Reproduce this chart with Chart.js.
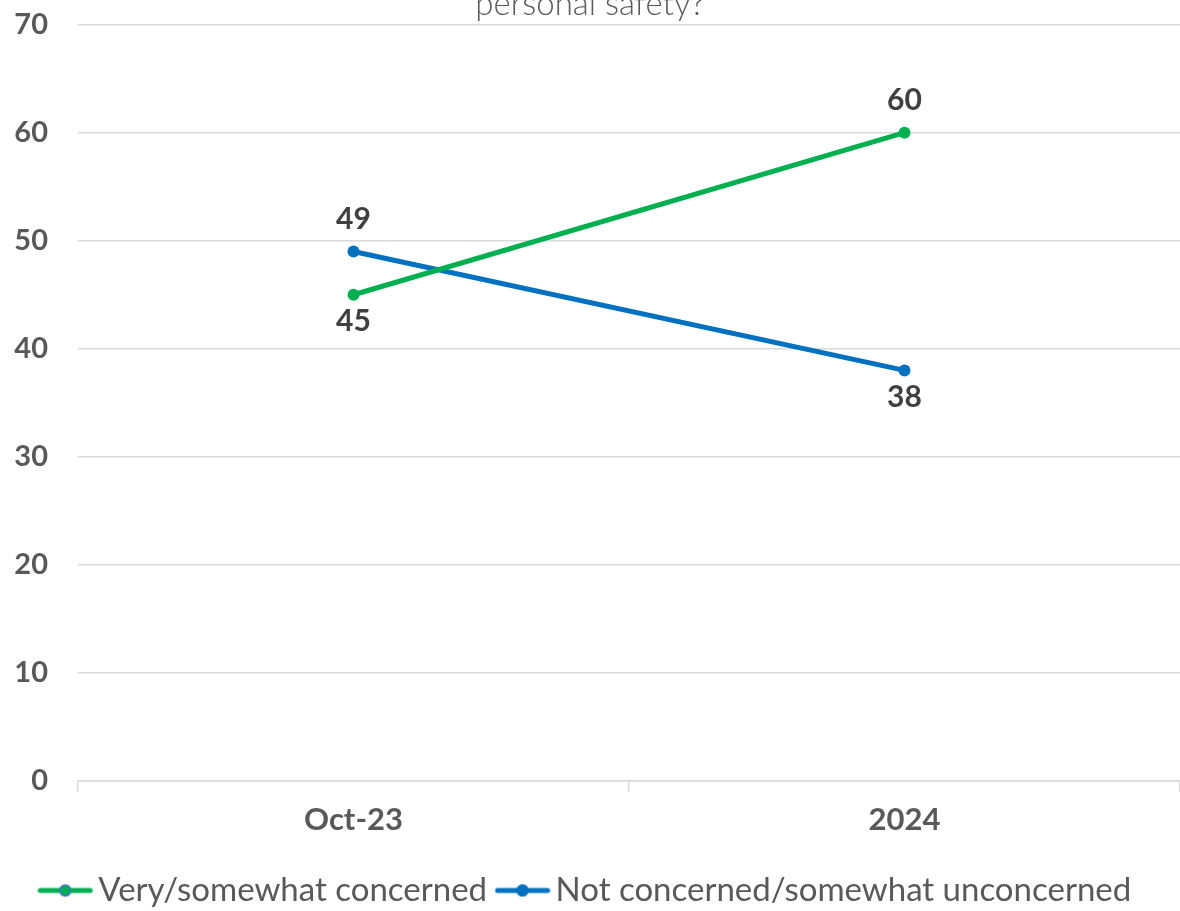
<!DOCTYPE html>
<html>
<head>
<meta charset="utf-8">
<script src="https://cdn.jsdelivr.net/npm/chart.js@4.4.1/dist/chart.umd.min.js"></script>
<style>
    html, body { margin: 0; padding: 0; background: #fff; overflow: hidden; }
    #wrap { position: absolute; left: 0; top: -15px; width: 1180px; height: 932px; }
</style>
</head>
<body>
<div id="wrap"><canvas id="chart"></canvas></div>
<script>
const categories = ["Oct-23", "2024"];
const concernedValues = [45, 60];
const unconcernedValues = [49, 38];
const seriesNames = ["Very/somewhat concerned", "Not concerned/somewhat unconcerned"];
const titleLine = "personal safety?";

const GREEN = "#00B050";
const BLUE = "#0070C0";
const FONT = "Lato, 'Open Sans', sans-serif";

function legendMarker(color, dotBorder) {
    const c = document.createElement("canvas");
    c.width = 56;
    c.height = 16;
    const g = c.getContext("2d");
    g.strokeStyle = color;
    g.lineWidth = 5;
    g.lineCap = "round";
    g.beginPath();
    g.moveTo(3, 8);
    g.lineTo(53, 8);
    g.stroke();
    g.beginPath();
    g.arc(28, 8, 5.5, 0, Math.PI * 2);
    g.fillStyle = color;
    g.fill();
    g.lineWidth = 1.5;
    g.strokeStyle = dotBorder;
    g.stroke();
    return c;
}

const markers = [legendMarker(GREEN, "#4472C4"), legendMarker(BLUE, BLUE)];

// draws the value next to each point, above or below
const pointLabels = {
    id: "pointLabels",
    afterDatasetsDraw(chart, args, opts) {
        const ctx = chart.ctx;
        ctx.save();
        ctx.font = "bold 30px " + FONT;
        ctx.fillStyle = "#404040";
        ctx.textAlign = "center";
        ctx.textBaseline = "middle";
        chart.data.datasets.forEach((ds, i) => {
            const meta = chart.getDatasetMeta(i);
            meta.data.forEach((pt, j) => {
                const above = opts.placement[i][j] === "above";
                const y = above ? pt.y - 32 : pt.y + 27;
                ctx.fillText(ds.data[j], pt.x, y);
            });
        });
        ctx.restore();
    }
};

new Chart(document.getElementById("chart"), {
    type: "line",
    data: {
        labels: categories,
        datasets: [
            {
                label: seriesNames[0],
                data: concernedValues,
                borderColor: GREEN,
                backgroundColor: GREEN,
                borderWidth: 5,
                pointRadius: 6,
                pointBorderWidth: 0
            },
            {
                label: seriesNames[1],
                data: unconcernedValues,
                borderColor: BLUE,
                backgroundColor: BLUE,
                borderWidth: 5,
                pointRadius: 6,
                pointBorderWidth: 0
            }
        ]
    },
    options: {
        responsive: true,
        maintainAspectRatio: false,
        animation: false,
        layout: { padding: 0, autoPadding: false },
        scales: {
            x: {
                offset: true,
                border: { color: "#d9d9d9", width: 1.5 },
                grid: {
                    offset: true,
                    drawOnChartArea: false,
                    drawTicks: true,
                    tickLength: 11,
                    color: "#d9d9d9",
                    lineWidth: 1.5
                },
                ticks: {
                    color: "#595959",
                    padding: 9,
                    font: { family: FONT, size: 31, weight: "bold" }
                },
                afterFit(scale) {
                    scale.height = 74;
                    scale.paddingLeft = 0;
                    scale.paddingRight = 0;
                }
            },
            y: {
                min: 0,
                max: 70,
                border: { display: false },
                grid: {
                    color: "#d9d9d9",
                    lineWidth: 1.5,
                    drawTicks: false
                },
                ticks: {
                    stepSize: 10,
                    color: "#595959",
                    padding: 30,
                    font: { family: FONT, size: 29, weight: "bold" }
                },
                afterFit(scale) {
                    scale.width = 78;
                    scale.paddingTop = 0;
                    scale.paddingBottom = 0;
                }
            }
        },
        plugins: {
            title: {
                display: true,
                text: titleLine,
                color: "#595959",
                padding: { top: 0, bottom: 0 },
                font: { family: FONT, size: 33, weight: 300 }
            },
            legend: {
                position: "bottom",
                labels: {
                    usePointStyle: true,
                    pointStyleWidth: 33,
                    color: "#595959",
                    padding: 19,
                    font: { family: FONT, size: 33 },
                    generateLabels(chart) {
                        return chart.data.datasets.map((ds, i) => ({
                            text: ds.label,
                            pointStyle: markers[i],
                            fillStyle: ds.borderColor,
                            strokeStyle: ds.borderColor,
                            lineWidth: 0,
                            fontColor: "#595959",
                            hidden: false,
                            datasetIndex: i
                        }));
                    }
                }
            },
            tooltip: { enabled: false },
            pointLabels: {
                placement: [["below", "above"], ["above", "below"]]
            }
        }
    },
    plugins: [pointLabels]
});
</script>
</body>
</html>
